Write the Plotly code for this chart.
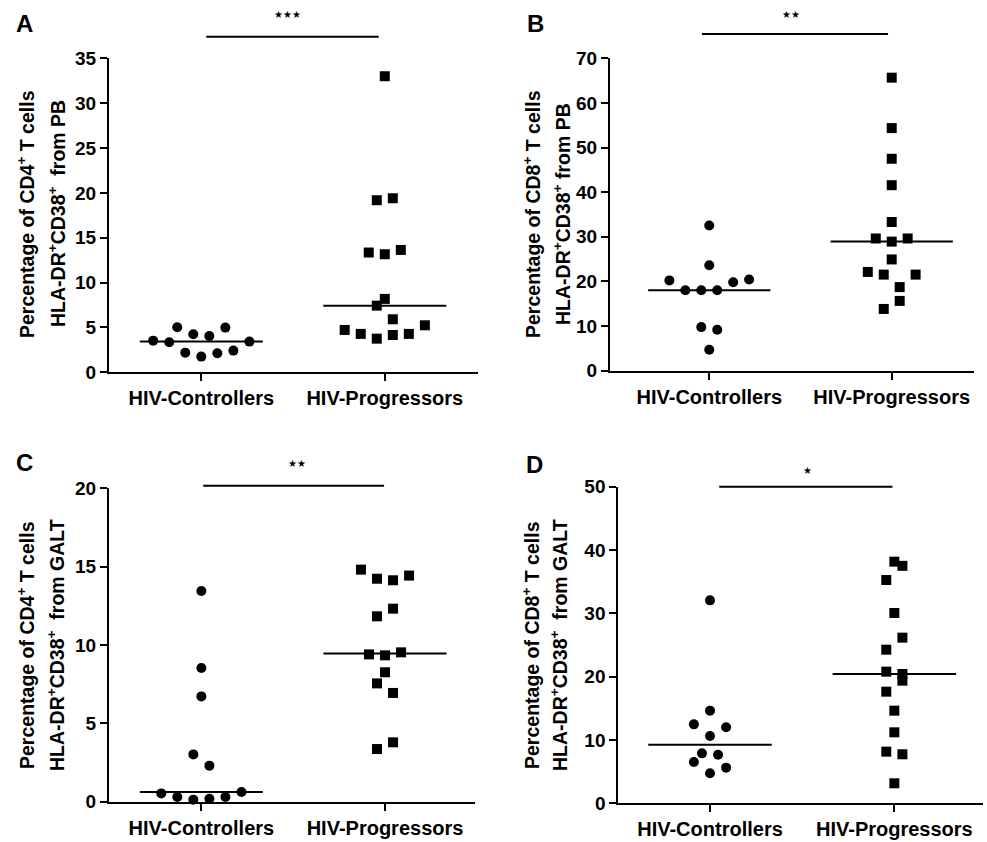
import numpy as np
import plotly.graph_objects as go

W, H = 987, 842

categories = ["HIV-Controllers", "HIV-Progressors"]

# Panel A: CD4+ HLA-DR+CD38+ from PB
a_ctrl = [3.53, 3.35, 5.02, 2.19, 4.24, 1.75, 4.05, 2.12, 4.98, 2.42, 3.42]
a_prog = [33.0, 19.18, 19.4, 13.35, 13.16, 13.64, 8.18, 7.43, 5.91, 4.72, 4.28, 3.75, 4.16, 4.28, 5.24]
# Panel B: CD8+ HLA-DR+CD38+ from PB
b_ctrl = [32.5, 23.6, 20.2, 18.0, 18.0, 18.0, 19.8, 20.4, 9.73, 9.13, 4.64]
b_prog = [65.66, 54.35, 47.47, 41.55, 33.3, 29.6, 28.9, 29.6, 24.9, 22.1, 21.5, 21.5, 18.7, 15.6, 13.8]
# Panel C: CD4+ HLA-DR+CD38+ from GALT
c_ctrl = [13.45, 8.53, 6.72, 3.02, 2.30, 0.53, 0.30, 0.13, 0.19, 0.30, 0.62]
c_prog = [14.81, 14.23, 14.13, 14.43, 12.32, 11.83, 9.40, 9.34, 9.53, 8.26, 7.55, 6.94, 3.79, 3.36]
# Panel D: CD8+ HLA-DR+CD38+ from GALT
d_ctrl = [32.05, 14.63, 12.47, 12.0, 10.63, 7.89, 7.68, 6.53, 5.63, 4.74]
d_prog = [38.16, 37.5, 35.26, 30.05, 26.16, 24.26, 20.79, 20.42, 19.37, 17.63, 14.63, 11.21, 8.16, 7.74, 3.16]

significance = ["***", "**", "**", "*"]
panel_letters = ["A", "B", "C", "D"]
ytitle_line1 = ["Percentage of CD4<sup>+</sup> T cells", "Percentage of CD8<sup>+</sup> T cells",
                "Percentage of CD4<sup>+</sup> T cells", "Percentage of CD8<sup>+</sup> T cells"]
ytitle_line2 = ["HLA-DR<sup>+</sup>CD38<sup>+</sup>&nbsp; from PB", "HLA-DR<sup>+</sup>CD38<sup>+</sup> from PB",
                "HLA-DR<sup>+</sup>CD38<sup>+</sup>&nbsp; from GALT", "HLA-DR<sup>+</sup>CD38<sup>+</sup>&nbsp; from GALT"]
y_max = [35, 70, 20, 50]
y_dtick = [5, 10, 5, 10]

# beeswarm slot offsets (layout only, in marker-slot units)
slots = {
    "a_ctrl": [-6, -4, -3, -2, -1, 0, 1, 2, 3, 4, 6],
    "a_prog": [0, -1, 1, -2, 0, 2, 0, -1, 1, -5, -3, -1, 1, 3, 5],
    "b_ctrl": [0, 0, -5, -3, -1, 1, 3, 5, -1, 1, 0],
    "b_prog": [0, 0, 0, 0, 0, -2, 0, 2, 0, -3, -1, 3, 1, 1, -1],
    "c_ctrl": [0, 0, 0, -1, 1, -5, -3, -1, 1, 3, 5],
    "c_prog": [-3, -1, 1, 3, 1, -1, -2, 0, 2, 0, -1, 1, 1, -1],
    "d_ctrl": [0, 0, -2, 2, 0, -1, 1, -2, 2, 0],
    "d_prog": [0, 1, -1, 0, 1, -1, -1, 1, 1, -1, 0, 0, -1, 1, 0],
}
SLOT = 0.0437

panels = [
    dict(ctrl=a_ctrl, prog=a_prog, ks=("a_ctrl", "a_prog"),
         px=(109, 478), py=(58.3, 372.3), xr=(-0.503, 1.508),
         bar=(0.027, 0.967, 36.7), star=(287, 15), letter=(24, 24),
         t1=(26, 214), t2=(57, 214)),
    dict(ctrl=b_ctrl, prog=b_prog, ks=("b_ctrl", "b_prog"),
         px=(610, 974), py=(58.3, 370.5), xr=(-0.544, 1.451),
         bar=(-0.04, 0.98, 34.0), star=(791, 15), letter=(535, 24),
         t1=(532, 214), t2=(562, 214)),
    dict(ctrl=c_ctrl, prog=c_prog, ks=("c_ctrl", "c_prog"),
         px=(109, 475), py=(488.3, 801.7), xr=(-0.503, 1.49),
         bar=(0.01, 0.995, 485.7), star=(297, 463), letter=(24, 462),
         t1=(26, 645), t2=(56, 645)),
    dict(ctrl=d_ctrl, prog=d_prog, ks=("d_ctrl", "d_prog"),
         px=(618.3, 983), py=(486.7, 803.3), xr=(-0.4975, 1.481),
         bar=(0.05, 0.99, 486.7), star=(807, 470), letter=(534, 465),
         t1=(531, 645), t2=(559, 645)),
]

FONT = "Arial, Liberation Sans, Helvetica, sans-serif"
fig = go.Figure()
layout = dict(template="none", width=W, height=H, autosize=False,
              margin=dict(l=0, r=0, t=0, b=0, pad=0, autoexpand=False),
              paper_bgcolor="white", plot_bgcolor="white", showlegend=False,
              font=dict(family=FONT, color="black"))
annotations, shapes = [], []


def fx(p):
    return p / W


def fy(p):
    return 1 - p / H


for i, p in enumerate(panels):
    n = "" if i == 0 else str(i + 1)
    xa, ya = "x" + n, "y" + n
    for g, (vals, key, sym) in enumerate([(p["ctrl"], p["ks"][0], "circle"),
                                            (p["prog"], p["ks"][1], "square")]):
        xs = [g + s * SLOT for s in slots[key]]
        fig.add_trace(go.Scatter(x=xs, y=vals, mode="markers", xaxis=xa, yaxis=ya,
                                 cliponaxis=False, hoverinfo="y",
                                 marker=dict(symbol=sym, size=10, color="black",
                                             line=dict(width=0))))
        med = float(np.median(vals))
        fig.add_trace(go.Scatter(x=[g - 0.335, g + 0.335], y=[med, med], mode="lines",
                                 xaxis=xa, yaxis=ya, cliponaxis=False, hoverinfo="skip",
                                 line=dict(color="black", width=2)))
    layout["xaxis" + n] = dict(domain=[fx(p["px"][0]), fx(p["px"][1])], anchor=ya,
                               range=list(p["xr"]), tickmode="array", tickvals=[0, 1],
                               ticktext=["<b>" + c + "</b>" for c in categories],
                               showline=True, linewidth=2, linecolor="black",
                               ticks="outside", ticklen=7, tickwidth=2, tickcolor="black",
                               showgrid=False, zeroline=False, fixedrange=True, automargin=False,
                               tickfont=dict(family=FONT, size=20, color="black"))
    layout["yaxis" + n] = dict(domain=[fy(p["py"][1]), fy(p["py"][0])], anchor=xa,
                               range=[0, y_max[i]], dtick=y_dtick[i], tick0=0,
                               showline=True, linewidth=2, linecolor="black",
                               ticks="outside", ticklen=7, tickwidth=2, tickcolor="black",
                               showgrid=False, zeroline=False, fixedrange=True, automargin=False,
                               tickprefix="<b>", ticksuffix="</b>",
                               tickfont=dict(family=FONT, size=19, color="black"))
    x0, x1, by = p["bar"]
    shapes.append(dict(type="line", xref=xa, yref="paper", x0=x0, x1=x1,
                       y0=fy(by), y1=fy(by), line=dict(color="black", width=2)))
    annotations.append(dict(x=fx(p["star"][0]), y=fy(p["star"][1]), xref="paper", yref="paper",
                            text="".join(["★"] * len(significance[i])), showarrow=False,
                            xanchor="center", yanchor="middle",
                            font=dict(family="DejaVu Sans", size=10, color="black")))
    annotations.append(dict(x=fx(p["letter"][0]), y=fy(p["letter"][1]), xref="paper", yref="paper",
                            text="<b>" + panel_letters[i] + "</b>", showarrow=False,
                            xanchor="center", yanchor="middle",
                            font=dict(family=FONT, size=24, color="black")))
    for (tx, ty), txt in [(p["t1"], ytitle_line1[i]), (p["t2"], ytitle_line2[i])]:
        annotations.append(dict(x=fx(tx), y=fy(ty), xref="paper", yref="paper",
                                text="<b>" + txt + "</b>", showarrow=False, textangle=-90,
                                xanchor="center", yanchor="middle",
                                font=dict(family=FONT, size=19.5, color="black")))

layout["annotations"] = annotations
layout["shapes"] = shapes
fig.update_layout(**layout)
fig.write_html(
    "out.html",
    config={"displayModeBar": False},
    post_script=("document.documentElement.style.margin='0';"
                 "document.body.style.margin='0';document.body.style.padding='0';"
                 "document.body.style.overflow='hidden';"),
)
